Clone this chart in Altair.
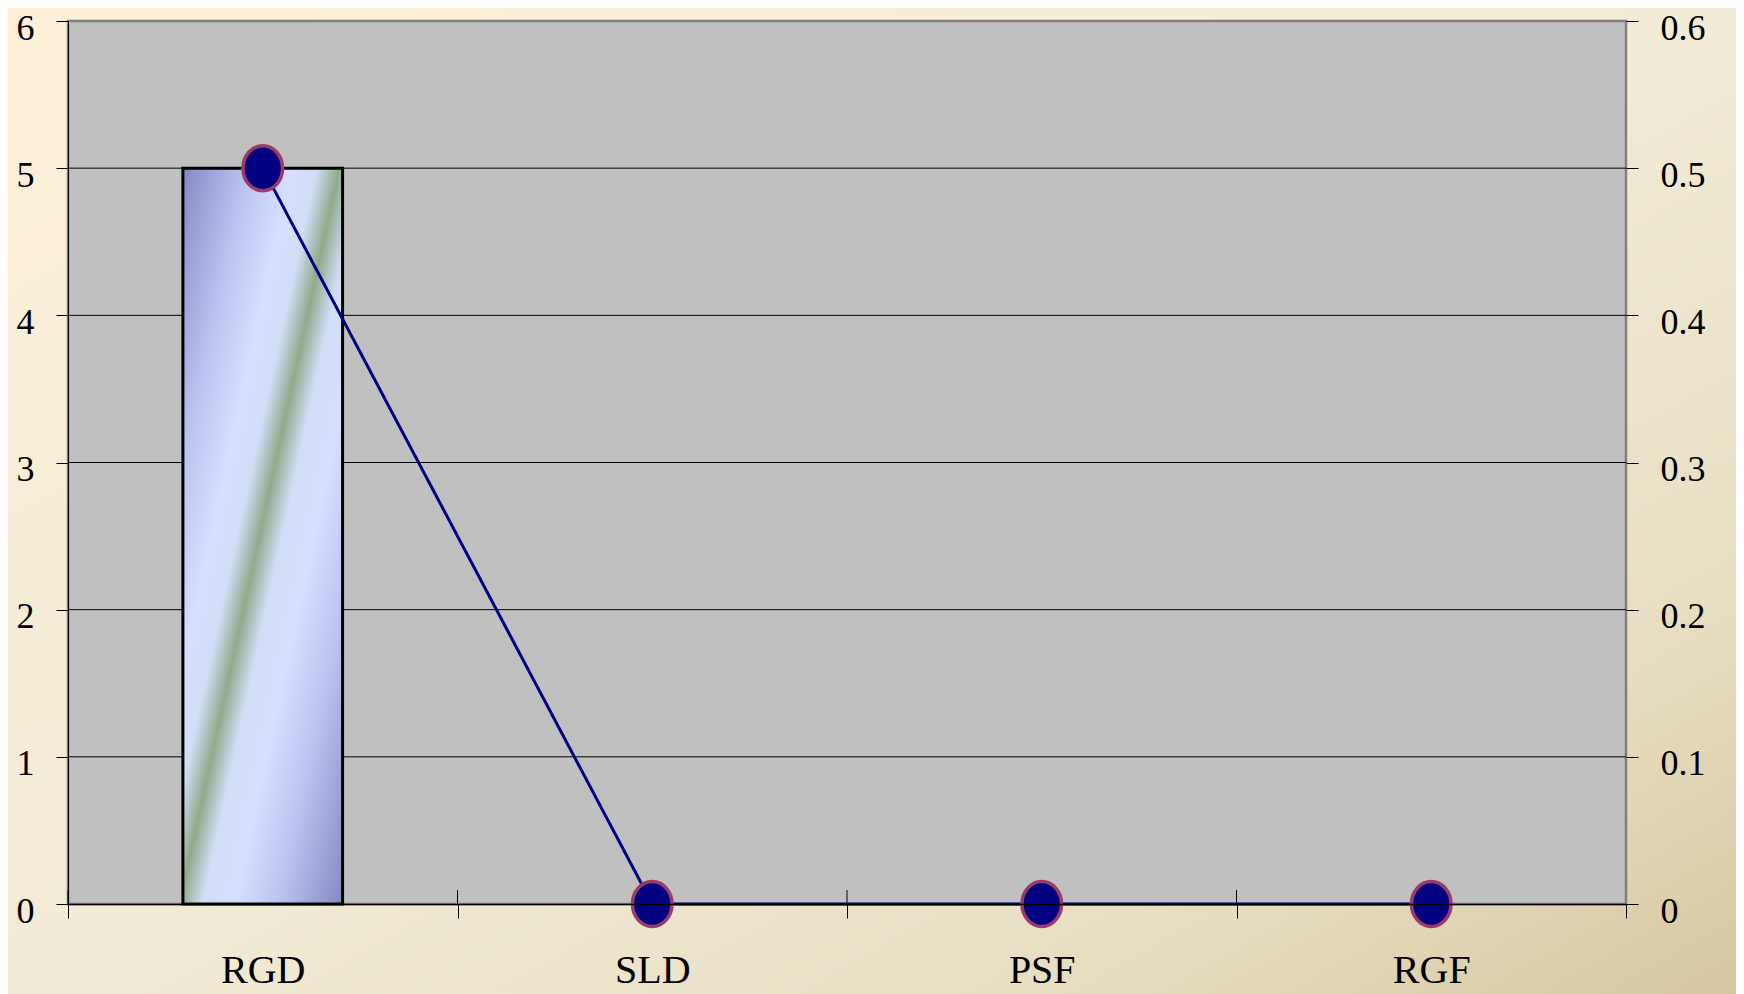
import altair as alt
import pandas as pd

categories = ["RGD", "SLD", "PSF", "RGF"]
order_idx = [0, 1, 2, 3]
bar_values = [5, 0, 0, 0]
line_values = [0.5, 0, 0, 0]
left_ticks = [0, 1, 2, 3, 4, 5, 6]
right_ticks = [0, 0.1, 0.2, 0.3, 0.4, 0.5, 0.6]
grid_values = [1, 2, 3, 4, 5]

W, H = 1558, 883
PL, PT, PR, PB = 60, 13, 110, 90
FONT = "Liberation Serif"

df = pd.DataFrame({"cat": categories, "idx": order_idx, "bar": bar_values, "line": line_values})
grid_df = pd.DataFrame({"v": grid_values})
one = pd.DataFrame({"k": [0]})

def stops(pairs):
    return [alt.GradientStop(offset=o, color=c) for o, c in pairs]

bg_grad = alt.LinearGradient(
    gradient="linear", x1=0, y1=0, x2=1, y2=1,
    stops=stops([(0, "#FDF0D8"), (0.5, "#F2EBD6"), (0.8, "#E7DEC2"), (1, "#D6C7A1")]),
)
bar_grad = alt.LinearGradient(
    gradient="linear", x1=0, y1=0, x2=1, y2=1,
    stops=stops([
        (0, "#8589C4"), (0.2, "#BBC3F0"), (0.34, "#D6DFFF"), (0.42, "#D2DDF6"),
        (0.49, "#90AA8C"), (0.56, "#D2DDF6"), (0.66, "#D6DFFF"), (0.8, "#BBC3F0"),
        (1, "#8589C4"),
    ]),
)

ELLIPSE = "M0,-1A0.88,1,0,1,1,0,1A0.88,1,0,1,1,0,-1Z"

xscale = alt.Scale(domain=categories, paddingInner=0, paddingOuter=0)
xaxis = alt.Axis(
    title=None, labelAngle=0, tickBand="extent", tickSize=14, tickColor="black",
    tickWidth=1, domainColor="black", domainWidth=1.5, labelFont=FONT,
    labelFontSize=40, labelColor="black", labelBaseline="alphabetic",
    labelPadding=64, zindex=1,
)
X = alt.X("cat:N", sort=categories, scale=xscale, axis=xaxis)

yl_scale = alt.Scale(domain=[0, 6], nice=False, zero=True)
yl_axis = alt.Axis(
    orient="left", title=None, values=left_ticks, format="d", tickSize=12,
    tickColor="black", tickWidth=1, domainColor="black", domainWidth=1,
    grid=False, labelFont=FONT, labelFontSize=36, labelColor="black",
    labelPadding=22, labelOffset=7, zindex=1,
)
yr_scale = alt.Scale(domain=[0, 0.6], nice=False, zero=True)
yr_axis = alt.Axis(
    orient="right", title=None, values=right_ticks, format=".1~f", tickSize=12,
    tickColor="black", tickWidth=1, domain=False, grid=False, labelFont=FONT,
    labelFontSize=36, labelColor="black", labelPadding=22, labelOffset=7, zindex=1,
)

bg = alt.Chart(one).mark_rect(fill=bg_grad).encode(
    x=alt.value(-PL), x2=alt.value(W + PR), y=alt.value(-PT), y2=alt.value(H + PB)
)
plotbg = alt.Chart(one).mark_rect(fill="#C0C0C0", stroke="#808080", strokeWidth=2.5).encode(
    x=alt.value(0), x2=alt.value(W), y=alt.value(0), y2=alt.value(H)
)

grid = alt.Chart(grid_df).mark_rule(color="black", strokeWidth=1).encode(
    y=alt.Y("v:Q", scale=yl_scale, axis=yl_axis)
)
bar = alt.Chart(df).transform_filter("datum.bar > 0").mark_bar(
    width=alt.RelativeBandSize(0.41), fill=bar_grad, stroke="black", strokeWidth=3
).encode(x=X, y=alt.Y("bar:Q", scale=yl_scale, axis=yl_axis))
left = alt.layer(grid, bar)

inner_ticks = alt.Chart(df).mark_rule(color="black", strokeWidth=1).encode(
    x=alt.X("cat:N", sort=categories, scale=xscale, axis=xaxis, bandPosition=0),
    y=alt.value(H - 14), y2=alt.value(H),
)

line = alt.Chart(df).mark_line(color="#000080", strokeWidth=3).encode(
    x=X, y=alt.Y("line:Q", scale=yr_scale, axis=yr_axis), order=alt.Order("idx:Q")
)
points = alt.Chart(df).mark_point(
    shape=ELLIPSE, size=2025, filled=True, fill="#000080", stroke="#9B3A6B",
    strokeWidth=3.5, opacity=1, fillOpacity=1, strokeOpacity=1,
).encode(x=X, y=alt.Y("line:Q", scale=yr_scale, axis=yr_axis))
right = alt.layer(line, points)

chart = alt.layer(bg, plotbg, left, inner_ticks, right).resolve_scale(
    y="independent"
).properties(
    width=W, height=H,
    autosize=alt.AutoSizeParams(type="none"),
    padding={"left": PL, "top": PT, "right": PR, "bottom": PB},
    background="#F2EBD6",
).configure_view(stroke="transparent")

chart.save("out.html", embed_options={"renderer": "svg", "actions": False})
